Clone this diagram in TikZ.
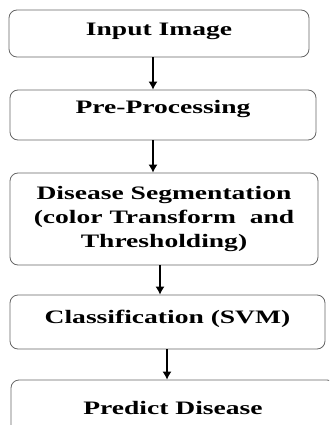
\documentclass[tikz,border=0pt]{standalone}
\usepackage{fontspec}
\setmainfont[FakeStretch=1.45]{Liberation Serif}
\usepackage{tikz}
\usetikzlibrary{arrows.meta}

\begin{document}
\begin{tikzpicture}[x=1pt,y=-1pt,
  stage/.style={draw=black!60, line width=0.8pt, rounded corners=8pt, align=center,
    inner sep=0pt, font=\fontsize{19}{24}\selectfont\bfseries},
  flow/.style={-{Latex[length=8pt,width=9pt]}, line width=1.2pt}]

\useasboundingbox (0,0) rectangle (329,425);
\clip (0,0) rectangle (329,425);

% the five stages, top to bottom
\node[stage, minimum width=300pt, minimum height=47pt, text height=13pt, text depth=9pt]
  (input) at (159,33.5) {Input Image};
\node[stage, minimum width=306pt, minimum height=50pt, text height=13pt, text depth=16pt]
  (pre) at (163,115) {Pre-Processing};
\node[stage, minimum width=308pt, minimum height=92pt]
  (seg) at (164,219) {Disease Segmentation\\(color Transform~ and\\Thresholding)};
\node[stage, minimum width=315pt, minimum height=54pt, text height=13pt, text depth=11pt]
  (svm) at (167.5,322) {Classification (SVM)};
\node[stage, minimum width=324pt, minimum height=60pt, text height=13pt, text depth=5pt]
  (predict) at (173,410) {Predict Disease};

% x positions of the arrows
\coordinate (a1) at (153,0);
\coordinate (a2) at (153,0);
\coordinate (a3) at (160,0);
\coordinate (a4) at (167,0);

\draw[flow] (input.south -| a1) -- (pre.north -| a1);
\draw[flow] (pre.south -| a2) -- (seg.north -| a2);
\draw[flow] (seg.south -| a3) -- (svm.north -| a3);
\draw[flow] (svm.south -| a4) -- (predict.north -| a4);

\end{tikzpicture}
\end{document}
